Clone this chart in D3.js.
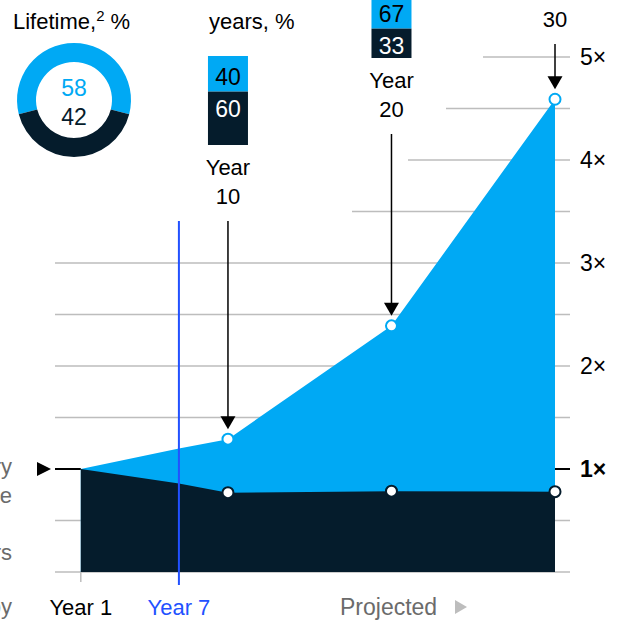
<!DOCTYPE html>
<html>
<head>
<meta charset="utf-8">
<script src="https://cdn.jsdelivr.net/npm/d3@7"></script>
<style>
  html, body { margin: 0; padding: 0; background: #fff; }
  svg { display: block; font-family: "Liberation Sans", Arial, sans-serif; }
</style>
</head>
<body>
<svg id="chart" width="627" height="622"></svg>
<script>
// ---- data ----
const years        = [1, 7, 10, 20, 30];
const totalValue   = [1, 1.2, 1.29, 2.39, 4.59];   // cumulative value, multiple of year 1
const coreValue    = [1, 0.86, 0.77, 0.785, 0.78]; // primary-relationship value
const markerYears  = [10, 20, 30];
const lifetimeShare = [58, 42];                    // new / core, %
const shareYears   = [10, 20];
const shareNew     = [40, 67];
const shareCore    = [60, 33];
const yTicks       = [1, 2, 3, 4, 5];
const gridValues   = [0, 0.5, 1.5, 2, 2.5, 3, 3.5, 4, 4.5, 5];

const BLUE = "#00A9F4", DARK = "#051C2C", ELECTRIC = "#2251FF", GRID = "#BDBDBD", GREY = "#6b6b6b";
const FS = 22;

const svg = d3.select("#chart");
const x = d3.scaleLinear().domain([1, 30]).range([80.8, 555]);
const y = d3.scaleLinear().domain([0, 5]).range([572, 57]);

// grid lines; upper ones stop short of the annotation column
const gridLeft = v => v >= 5 ? 483 : v >= 4.5 ? 446 : v >= 4 ? 408 : v >= 3.5 ? 352 : 55;
svg.append("g").selectAll("line").data(gridValues).join("line")
  .attr("x1", d => gridLeft(d)).attr("x2", 570)
  .attr("y1", d => y(d)).attr("y2", d => y(d))
  .attr("stroke", GRID).attr("stroke-width", 1.5);

// year 1 tick
svg.append("line").attr("x1", x(1)).attr("x2", x(1)).attr("y1", y(0)).attr("y2", y(0) + 10)
  .attr("stroke", GRID).attr("stroke-width", 1.5);

// areas
const totalPts = years.map((yr, i) => ({ yr, v: totalValue[i] }));
const corePts  = years.map((yr, i) => ({ yr, v: coreValue[i] }));
const area = d3.area().x(d => x(d.yr)).y0(y(0)).y1(d => y(d.v));
svg.append("path").datum(totalPts).attr("d", area).attr("fill", BLUE);
svg.append("path").datum(corePts).attr("d", area).attr("fill", DARK);

// 1x reference marks
svg.append("line").attr("x1", 55).attr("x2", x(1)).attr("y1", y(1)).attr("y2", y(1))
  .attr("stroke", "#000").attr("stroke-width", 2);
svg.append("path").attr("d", `M37,${y(1) - 7}L51,${y(1)}L37,${y(1) + 7}Z`).attr("fill", "#000");
svg.append("line").attr("x1", x(30)).attr("x2", 570).attr("y1", y(1)).attr("y2", y(1))
  .attr("stroke", "#000").attr("stroke-width", 2);

// year 7 marker
svg.append("line").attr("x1", x(7)).attr("x2", x(7)).attr("y1", 221).attr("y2", 585)
  .attr("stroke", ELECTRIC).attr("stroke-width", 2);

// y tick labels
svg.append("g").selectAll("text").data(yTicks).join("text")
  .attr("x", 580).attr("y", d => y(d) + 8)
  .attr("font-size", FS + 1).attr("fill", "#000")
  .attr("font-weight", d => d === 1 ? "bold" : "normal")
  .text(d => d + "×");

// arrows and year labels
const labelBase = { 10: 204, 20: 117, 30: 27 };
markerYears.forEach(yr => {
  const i = years.indexOf(yr);
  const cx = x(yr), cy = y(totalValue[i]);
  const base = labelBase[yr];
  const tip = cy - 10;
  svg.append("text").attr("x", cx).attr("y", base - 29).attr("text-anchor", "middle")
    .attr("font-size", FS).attr("fill", "#000").text("Year");
  svg.append("text").attr("x", cx).attr("y", base).attr("text-anchor", "middle")
    .attr("font-size", FS).attr("fill", "#000").text(yr);
  svg.append("line").attr("x1", cx).attr("x2", cx).attr("y1", base + 17).attr("y2", tip - 12)
    .attr("stroke", "#000").attr("stroke-width", 1.5);
  svg.append("path").attr("d", `M${cx - 7.5},${tip - 13}L${cx + 7.5},${tip - 13}L${cx},${tip}Z`)
    .attr("fill", "#000");
});

// value markers
svg.append("g").selectAll("circle").data(markerYears).join("circle")
  .attr("cx", d => x(d)).attr("cy", d => y(coreValue[years.indexOf(d)])).attr("r", 5.5)
  .attr("fill", "#fff").attr("stroke", DARK).attr("stroke-width", 2);
svg.append("g").selectAll("circle").data(markerYears).join("circle")
  .attr("cx", d => x(d)).attr("cy", d => y(totalValue[years.indexOf(d)])).attr("r", 5.5)
  .attr("fill", "#fff").attr("stroke", BLUE).attr("stroke-width", 2);

// share bars above the arrows
const boxH = d3.scaleLinear().domain([0, 100]).range([0, 89]);
const boxBottom = { 10: 145, 20: 58 };
shareYears.forEach((yr, i) => {
  const cx = x(yr), bottom = boxBottom[yr];
  const coreTop = bottom - boxH(shareCore[i]);
  const newTop = coreTop - boxH(shareNew[i]);
  svg.append("rect").attr("x", cx - 20).attr("width", 40)
    .attr("y", newTop).attr("height", coreTop - newTop).attr("fill", BLUE);
  svg.append("rect").attr("x", cx - 20).attr("width", 40)
    .attr("y", coreTop).attr("height", bottom - coreTop).attr("fill", DARK);
  svg.append("text").attr("x", cx).attr("y", coreTop - 7).attr("text-anchor", "middle")
    .attr("font-size", FS + 1).attr("fill", "#000").text(shareNew[i]);
  svg.append("text").attr("x", cx).attr("y", coreTop + 25).attr("text-anchor", "middle")
    .attr("font-size", FS + 1).attr("fill", "#fff").text(shareCore[i]);
});

// lifetime donut
const pie = d3.pie().sort(null)
  .startAngle(-lifetimeShare[0] / 100 * Math.PI)
  .endAngle(2 * Math.PI - lifetimeShare[0] / 100 * Math.PI);
const arc = d3.arc().innerRadius(38).outerRadius(57);
const donut = svg.append("g").attr("transform", "translate(74,100)");
donut.selectAll("path").data(pie(lifetimeShare)).join("path")
  .attr("d", arc).attr("fill", (d, i) => i === 0 ? BLUE : DARK);
donut.append("text").attr("y", -4).attr("text-anchor", "middle")
  .attr("font-size", FS + 1).attr("fill", BLUE).text(lifetimeShare[0]);
donut.append("text").attr("y", 25).attr("text-anchor", "middle")
  .attr("font-size", FS + 1).attr("fill", DARK).text(lifetimeShare[1]);

// headings
const h1 = svg.append("text").attr("x", 13).attr("y", 29).attr("font-size", FS).attr("fill", "#000");
h1.append("tspan").text("Lifetime,");
h1.append("tspan").attr("font-size", 15).attr("dy", -8).text("2");
h1.append("tspan").attr("dy", 8).text(" %");
svg.append("text").attr("x", 209).attr("y", 0).attr("font-size", FS).attr("fill", "#000").text("Share over");
svg.append("text").attr("x", 209).attr("y", 29).attr("font-size", FS).attr("fill", "#000").text("years, %");

// bottom axis labels
svg.append("text").attr("x", x(1)).attr("y", 615).attr("text-anchor", "middle")
  .attr("font-size", FS).attr("fill", "#000").text("Year 1");
svg.append("text").attr("x", x(7)).attr("y", 615).attr("text-anchor", "middle")
  .attr("font-size", FS).attr("fill", ELECTRIC).text("Year 7");
svg.append("text").attr("x", 340).attr("y", 615)
  .attr("font-size", FS + 1).attr("fill", GREY).text("Projected");
svg.append("path").attr("d", "M455,600L467,607L455,614Z").attr("fill", "#bdbdbd");

// side note
const note = [["Value of primary", 474], ["relationship, base case", 503], ["in years", 560], ["by", 614]];
svg.append("g").selectAll("text").data(note).join("text")
  .attr("x", 12).attr("y", d => d[1]).attr("text-anchor", "end")
  .attr("font-size", FS).attr("fill", GREY).text(d => d[0]);
</script>
</body>
</html>
